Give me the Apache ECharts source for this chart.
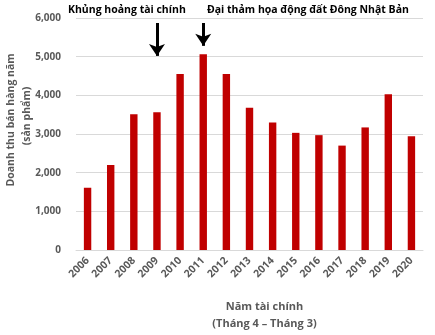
<!DOCTYPE html>
<html><head><meta charset="utf-8">
<script src="https://cdn.jsdelivr.net/npm/echarts@6/dist/echarts.min.js"></script>
<style>html,body{margin:0;padding:0;background:#fff}#c{width:435px;height:335px}</style>
</head><body><div id="c"></div>
<script>
const years = ['2006','2007','2008','2009','2010','2011','2012','2013','2014','2015','2016','2017','2018','2019','2020'];
const sales = [1610, 2200, 3510, 3560, 4550, 5060, 4550, 3680, 3300, 3030, 2970, 2700, 3170, 4030, 2940];
const yTicks = [0, 1000, 2000, 3000, 4000, 5000, 6000];
const yTitle = ['Doanh thu bán hàng năm', '(sản phẩm)'];
const events = [
  {year: '2009', label: 'Khủng hoảng tài chính', from: 5870, to: 5020},
  {year: '2011', label: 'Đại thảm họa động đất Đông Nhật Bản', from: 5870, to: 5280}
];
const FONT = '"Open Sans", sans-serif';
const gray = '#595959';
const chart = echarts.init(document.getElementById('c'));
chart.setOption({
  animation: false,
  grid: {left: 76, right: 12, top: 18, bottom: 85, containLabel: false, outerBoundsMode: 'none'},
  xAxis: {
    type: 'category', data: years,
    axisLine: {lineStyle: {color: '#D9D9D9'}},
    axisTick: {show: false},
    axisLabel: {rotate: 45, color: gray, fontFamily: FONT, fontWeight: 'bold', fontSize: 10.5, margin: 9},
    name: 'Năm tài chính\n(Tháng 4 – Tháng 3)', nameLocation: 'middle', nameGap: 48, nameMoveOverlap: false,
    nameTextStyle: {color: gray, fontFamily: FONT, fontWeight: 'bold', fontSize: 11, lineHeight: 17,
      verticalAlign: 'top', padding: [0, 0, 0, 30]}
  },
  yAxis: {
    type: 'value', min: yTicks[0], max: yTicks[yTicks.length-1], interval: 1000,
    axisLine: {show: false}, axisTick: {show: false},
    splitLine: {lineStyle: {color: '#D9D9D9'}},
    axisLabel: {color: gray, fontFamily: FONT, fontWeight: 'bold', fontSize: 10, margin: 15,
      formatter: v => v.toLocaleString('en-US')}
  },
  series: [{
    type: 'bar', data: sales, barWidth: '32%',
    itemStyle: {color: '#C00000'},
    markLine: {
      silent: true, symbol: ['none', 'arrow'], symbolSize: [12, 12],
      lineStyle: {color: '#000', width: 3, type: 'solid'},
      label: {show: false},
      data: events.map(e => [{coord: [e.year, e.from]}, {coord: [e.year, e.to]}])
    }
  }],
  graphic: [
    {type: 'text', left: 68, top: 5, style: {text: events[0].label, fill: '#000', font: 'bold 10.5px ' + FONT}},
    {type: 'text', left: 207, top: 5, style: {text: events[1].label, fill: '#000', font: 'bold 10.5px ' + FONT}},
    {type: 'text', x: 11, y: 120, rotation: Math.PI / 2,
      style: {text: yTitle[0], fill: gray, font: 'bold 10.5px ' + FONT, align: 'center', verticalAlign: 'middle'}},
    {type: 'text', x: 27, y: 116, rotation: Math.PI / 2,
      style: {text: yTitle[1], fill: gray, font: 'bold 10.5px ' + FONT, align: 'center', verticalAlign: 'middle'}}
  ]
});
</script></body></html>
